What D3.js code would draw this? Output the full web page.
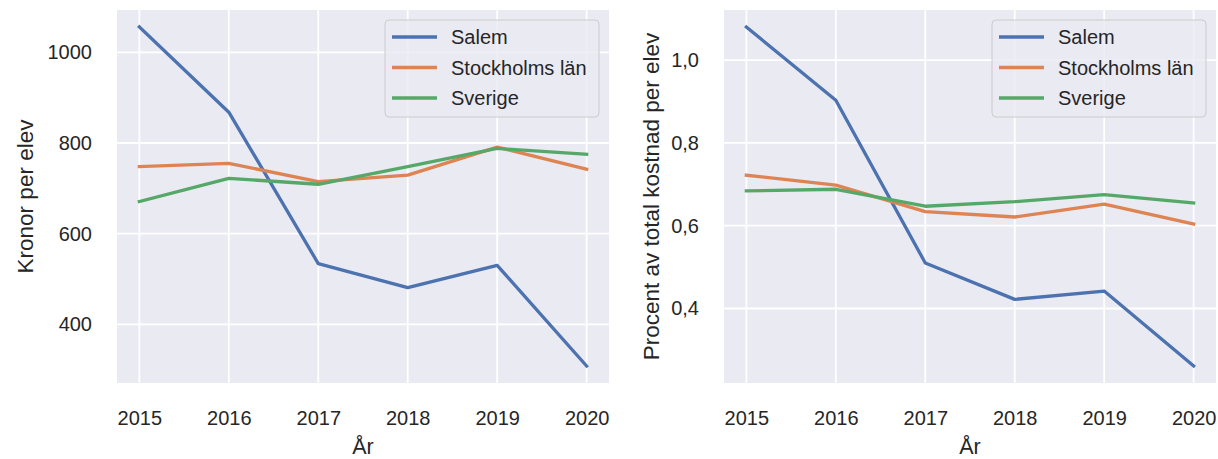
<!DOCTYPE html>
<html>
<head>
<meta charset="utf-8">
<script src="https://cdn.jsdelivr.net/npm/d3@7"></script>
<style>
    body { margin: 0; background: #ffffff; }
    svg { display: block; font-family: "Liberation Sans", Arial, sans-serif; }
    .tick text { fill: #262626; font-size: 20px; }
    .axislabel { fill: #262626; font-size: 21.5px; }
    .ylabel { font-size: 22.5px; }
    .legend text { fill: #262626; font-size: 20px; }
</style>
</head>
<body>
<div id="vis"></div>
<script>

// Data -----------------------------------------------------------------------

const YEARS = [2015, 2016, 2017, 2018, 2019, 2020];
const SERIES = ["Salem", "Stockholms län", "Sverige"];
const COLORS = ["#4c72b0", "#dd8452", "#55a868"];

// Kronor per elev
const KRONOR_SALEM = [1056, 868, 534, 481, 530, 308];
const KRONOR_STHLM = [748, 755, 715, 729, 791, 742];
const KRONOR_SVERIGE = [671, 722, 709, 748, 788, 775];
const KRONOR_TICKS = [400, 600, 800, 1000];

// Procent av total kostnad per elev
const PROCENT_SALEM = [1.080, 0.903, 0.510, 0.422, 0.442, 0.261];
const PROCENT_STHLM = [0.722, 0.698, 0.634, 0.621, 0.652, 0.604];
const PROCENT_SVERIGE = [0.684, 0.688, 0.647, 0.658, 0.675, 0.655];
const PROCENT_TICKS = [0.4, 0.6, 0.8, 1.0];

// Chart building -------------------------------------------------------------

const svg = d3.select("#vis")
    .append("svg")
    .attr("width", 1218)
    .attr("height", 459);

function buildChart(config) {

    const top = 10;
    const bottom = 383;
    const left = config.left;
    const right = config.left + 492;

    const xscale = d3.scaleLinear()
        .domain([YEARS[0] - 0.25, YEARS[YEARS.length - 1] + 0.25])
        .range([left, right]);

    // matplotlib style 5% padding around the data
    const all = config.values.flat();
    const lo = d3.min(all);
    const hi = d3.max(all);
    const pad = (hi - lo) * 0.05;
    const yscale = d3.scaleLinear()
        .domain([lo - pad, hi + pad])
        .range([bottom, top]);

    const g = svg.append("g");

    // Background and grid
    g.append("rect")
        .attr("x", left)
        .attr("y", top)
        .attr("width", right - left)
        .attr("height", bottom - top)
        .attr("fill", "#eaeaf2");

    g.selectAll(".vgrid")
        .data(YEARS)
        .enter()
        .append("line")
        .attr("x1", d => xscale(d))
        .attr("x2", d => xscale(d))
        .attr("y1", top)
        .attr("y2", bottom)
        .attr("stroke", "#ffffff")
        .attr("stroke-width", 1.8);

    g.selectAll(".hgrid")
        .data(config.ticks)
        .enter()
        .append("line")
        .attr("x1", left)
        .attr("x2", right)
        .attr("y1", d => yscale(d))
        .attr("y2", d => yscale(d))
        .attr("stroke", "#ffffff")
        .attr("stroke-width", 1.8);

    // Axes
    const xaxis = d3.axisBottom(xscale)
        .tickValues(YEARS)
        .tickFormat(d3.format("d"))
        .tickSize(0)
        .tickPadding(28);

    g.append("g")
        .attr("transform", `translate(0,${bottom})`)
        .call(xaxis)
        .call(a => a.select(".domain").remove());

    const yaxis = d3.axisLeft(yscale)
        .tickValues(config.ticks)
        .tickFormat(config.format)
        .tickSize(0)
        .tickPadding(25);

    g.append("g")
        .attr("transform", `translate(${left},0)`)
        .call(yaxis)
        .call(a => a.select(".domain").remove());

    g.selectAll(".tick text").attr("font-family", null).attr("font-size", null);

    // Axis labels
    g.append("text")
        .attr("class", "axislabel")
        .attr("x", (left + right) / 2)
        .attr("y", 454)
        .attr("text-anchor", "middle")
        .text("År");

    g.append("text")
        .attr("class", "axislabel ylabel")
        .attr("transform", `translate(${config.labelX},${(top + bottom) / 2}) rotate(-90)`)
        .attr("text-anchor", "middle")
        .attr("dy", "0.35em")
        .text(config.ylabel);

    // Lines
    const line = d3.line()
        .x((d, i) => xscale(YEARS[i]))
        .y(d => yscale(d));

    g.selectAll(".series")
        .data(config.values)
        .enter()
        .append("path")
        .attr("d", line)
        .attr("fill", "none")
        .attr("stroke", (d, i) => COLORS[i])
        .attr("stroke-width", 3.3)
        .attr("stroke-linejoin", "round")
        .attr("stroke-linecap", "square");

    // Legend
    const boxW = 214;
    const boxX = right - 10 - boxW;
    const boxY = top + 10;
    const legend = g.append("g").attr("class", "legend");

    legend.append("rect")
        .attr("x", boxX)
        .attr("y", boxY)
        .attr("width", boxW)
        .attr("height", 97)
        .attr("rx", 4)
        .attr("fill", "#eaeaf2")
        .attr("fill-opacity", 0.8)
        .attr("stroke", "#cccccc")
        .attr("stroke-width", 1);

    SERIES.forEach((name, i) => {
        const cy = boxY + 17 + i * 30.5;
        legend.append("line")
            .attr("x1", boxX + 7)
            .attr("x2", boxX + 52)
            .attr("y1", cy)
            .attr("y2", cy)
            .attr("stroke", COLORS[i])
            .attr("stroke-width", 3.3);
        legend.append("text")
            .attr("x", boxX + 66)
            .attr("y", cy)
            .attr("dy", "0.35em")
            .text(name);
    });
}

buildChart({
    left: 117,
    values: [KRONOR_SALEM, KRONOR_STHLM, KRONOR_SVERIGE],
    ticks: KRONOR_TICKS,
    format: d3.format("d"),
    ylabel: "Kronor per elev",
    labelX: 25
});

buildChart({
    left: 724,
    values: [PROCENT_SALEM, PROCENT_STHLM, PROCENT_SVERIGE],
    ticks: PROCENT_TICKS,
    format: d => d3.format(".1f")(d).replace(".", ","),
    ylabel: "Procent av total kostnad per elev",
    labelX: 651
});

</script>
</body>
</html>
